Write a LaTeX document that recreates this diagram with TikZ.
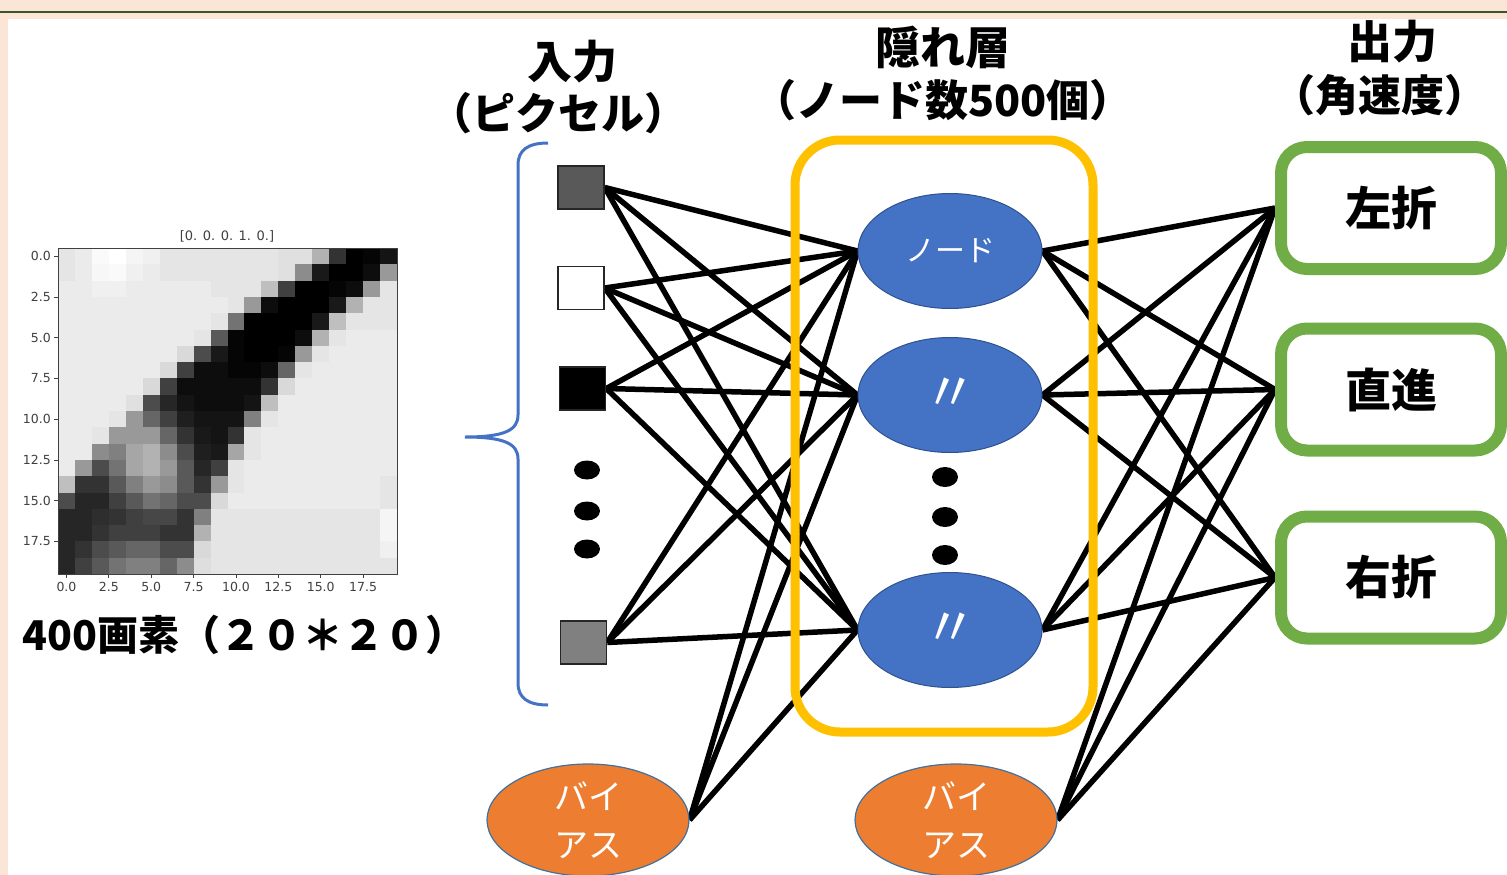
\documentclass[tikz,border=0pt]{standalone}
\usepackage{fontspec}
\setmainfont{Noto Sans CJK JP}
\newfontfamily\mplfont{DejaVu Sans}
\usetikzlibrary{shapes.geometric}

\definecolor{peach}{HTML}{FBE5D6}
\definecolor{rulegreen}{HTML}{385723}
\definecolor{nodeblue}{HTML}{4472C4}
\definecolor{nodeblueline}{HTML}{2F528F}
\definecolor{biasorange}{HTML}{ED7D31}
\definecolor{biasline}{HTML}{41719C}
\definecolor{framegold}{HTML}{FFC000}
\definecolor{outgreen}{HTML}{70AD47}
\definecolor{axisgray}{HTML}{404040}

\pgfdeclarelayer{slide}
\pgfdeclarelayer{edges}
\pgfsetlayers{slide,edges,main}

\begin{document}
\begin{tikzpicture}[x=1pt,y=-1pt,
  head/.style={font=\fontsize{45}{50}\selectfont\bfseries, inner sep=0},
  headsub/.style={font=\fontsize{43}{48}\selectfont\bfseries, inner sep=0},
  pixel/.style={draw=black!85, line width=1.5, minimum width=46, minimum height=43, inner sep=0},
  dotmark/.style={ellipse, fill=black, inner sep=0, minimum width=26, minimum height=19},
  hidden/.style={ellipse, fill=nodeblue, draw=nodeblueline, line width=1, minimum width=184, minimum height=115, inner sep=0, text=white, font=\fontsize{30}{34}\selectfont},
  ditto/.style={hidden, font=\fontsize{54}{56}\selectfont},
  bias/.style={ellipse, fill=biasorange, draw=biasline, line width=1.2, minimum width=202, minimum height=112, inner sep=0, text=white, align=center, font=\fontsize{34}{48}\selectfont},
  outbox/.style={draw=outgreen, line width=12, rounded corners=26, minimum width=220, minimum height=122, inner sep=0, fill=white, font=\fontsize{46}{50}\selectfont\bfseries},
  wire/.style={black, line width=5.5},
  tick/.style={axisgray, line width=0.8},
  ticklabel/.style={font=\mplfont\fontsize{12.5}{14}\selectfont, text=axisgray, inner sep=0}
]
\useasboundingbox (0,0) rectangle (1507,875);

% slide background
\begin{pgfonlayer}{slide}
  \fill[peach] (0,0) rectangle (1507,875);
  \fill[white] (8,19) rectangle (1507,875);
  \draw[rulegreen, line width=2.5] (0,12) -- (1507,12);
\end{pgfonlayer}

% 20x20 input image (percent black per pixel)
\foreach \rowvals [count=\r from 0] in {
 {10,8,2,0,4,6,10,10,10,10,10,10,10,12,12,30,80,100,98,92},
 {10,8,3,2,6,8,10,10,10,10,10,10,10,12,45,90,100,100,95,40},
 {8,8,6,6,8,8,8,8,8,10,10,10,25,75,100,100,98,95,40,10},
 {8,8,8,8,8,8,8,8,8,8,10,40,95,100,100,100,90,30,10,10},
 {8,8,8,8,8,8,8,8,8,10,55,100,100,100,100,90,25,10,10,10},
 {8,8,8,8,8,8,8,8,10,65,98,100,100,100,95,30,10,8,8,8},
 {8,8,8,8,8,8,8,15,70,90,98,100,100,98,40,10,8,8,8,8},
 {8,8,8,8,8,8,15,75,95,95,98,98,95,60,10,8,8,8,8,8},
 {8,8,8,8,8,15,75,95,95,95,95,95,80,15,8,8,8,8,8,8},
 {8,8,8,8,12,70,85,92,95,95,95,92,25,8,8,8,8,8,8,8},
 {8,8,8,10,40,60,75,88,92,92,92,50,10,8,8,8,8,8,8,8},
 {8,8,10,40,40,40,60,80,90,92,80,10,8,8,8,8,8,8,8,8},
 {8,8,45,50,35,30,45,70,88,90,35,10,8,8,8,8,8,8,8,8},
 {8,40,70,55,35,30,40,65,85,75,10,8,8,8,8,8,8,8,8,8},
 {25,80,80,65,50,40,45,65,80,40,10,8,8,8,8,8,8,8,8,10},
 {70,85,85,75,65,55,60,70,70,15,8,8,8,8,8,8,8,8,8,10},
 {85,85,82,80,75,72,72,80,50,10,10,10,10,10,10,10,10,10,10,4},
 {85,85,80,75,75,75,80,80,30,10,10,10,10,10,10,10,10,10,10,4},
 {85,80,70,65,60,60,70,70,15,10,10,10,10,10,10,10,10,10,10,6},
 {85,75,65,55,50,50,60,45,13,10,10,10,10,10,10,10,10,10,10,10}} {
  \foreach \k [count=\c from 0] in \rowvals {
    \fill[black!\k] ({58+\c*16.95},{248+\r*16.3}) rectangle ++(17.3,16.6);
  }
}
\draw[axisgray, line width=0.8] (58,248) rectangle (397,574);
\foreach \v in {0.0,2.5,5.0,7.5,10.0,12.5,15.0,17.5} {
  \draw[tick] (58,{248+(\v+0.5)*16.3}) -- ++(-4,0);
  \node[ticklabel, anchor=east] at (51,{248+(\v+0.5)*16.3}) {\v};
  \draw[tick] ({58+(\v+0.5)*16.95},574) -- ++(0,4);
  \node[ticklabel, anchor=north] at ({58+(\v+0.5)*16.95},582) {\v};
}
\node[ticklabel, font=\mplfont\fontsize{13}{15}\selectfont] (imgtitle) at (227,236) {[0. 0. 0. 1. 0.]};
\node[font=\fontsize{41}{46}\selectfont\bfseries, anchor=west, inner sep=0] (imgcap) at (22,635) {400画素（２０＊２０）};

% column headings
\node[head] (hin) at (572,62) {入力};
\node[headsub] (hinb) at (558,113) {（ピクセル）};
\node[head] (hhid) at (943,47) {隠れ層};
\node[headsub] (hhidb) at (943,100) {（ノード数500個）};
\node[head] (hout) at (1392,42) {出力};
\node[headsub] (houtb) at (1380,95) {（角速度）};

% brace grouping the pixel inputs
\draw[nodeblue, line width=3]
  (548,143) .. controls (528,143) and (518,150) .. (518,165) -- (518,415)
  .. controls (518,430) and (505,437) .. (465,437)
  .. controls (505,437) and (518,444) .. (518,459) -- (518,683)
  .. controls (518,698) and (528,705) .. (548,705);

% input layer
\node[pixel, fill=black!65] (i1) at (581,187.5) {};
\node[pixel, fill=white] (i2) at (581,288) {};
\node[pixel, fill=black] (i3) at (582.5,388.5) {};
\node[pixel, fill=black!50] (i4) at (583.5,642.5) {};
\node[dotmark] (id1) at (587,470) {};
\node[dotmark] (id2) at (587,511) {};
\node[dotmark] (id3) at (587,549) {};
\node[bias] (b1) at (588,820) {バイ\\アス};

% hidden layer
\node[draw=framegold, line width=9, rounded corners=45, minimum width=298, minimum height=592, inner sep=0] (hidframe) at (944,436) {};
\node[hidden] (h1) at (950,251) {ノード};
\node[ditto] (h2) at (950,395) {〃};
\node[ditto] (h3) at (950,630) {〃};
\node[dotmark, minimum height=20] (hd1) at (945,477) {};
\node[dotmark, minimum height=20] (hd2) at (945,517) {};
\node[dotmark, minimum height=20] (hd3) at (945,555) {};
\node[bias] (b2) at (956,820) {バイ\\アス};

% output layer
\node[outbox] (o1) at (1391,208) {左折};
\node[outbox] (o2) at (1391,389.5) {直進};
\node[outbox] (o3) at (1391,577.5) {右折};

% weights
\begin{pgfonlayer}{edges}
  \foreach \s in {i1,i2,i3,i4,b1}
    \foreach \t in {h1,h2,h3}
      \draw[wire] (\s.east) -- (\t.west);
  \foreach \s in {h1,h2,h3,b2}
    \foreach \t in {o1,o2,o3}
      \draw[wire] (\s.east) -- (\t.west);
\end{pgfonlayer}
\end{tikzpicture}
\end{document}
